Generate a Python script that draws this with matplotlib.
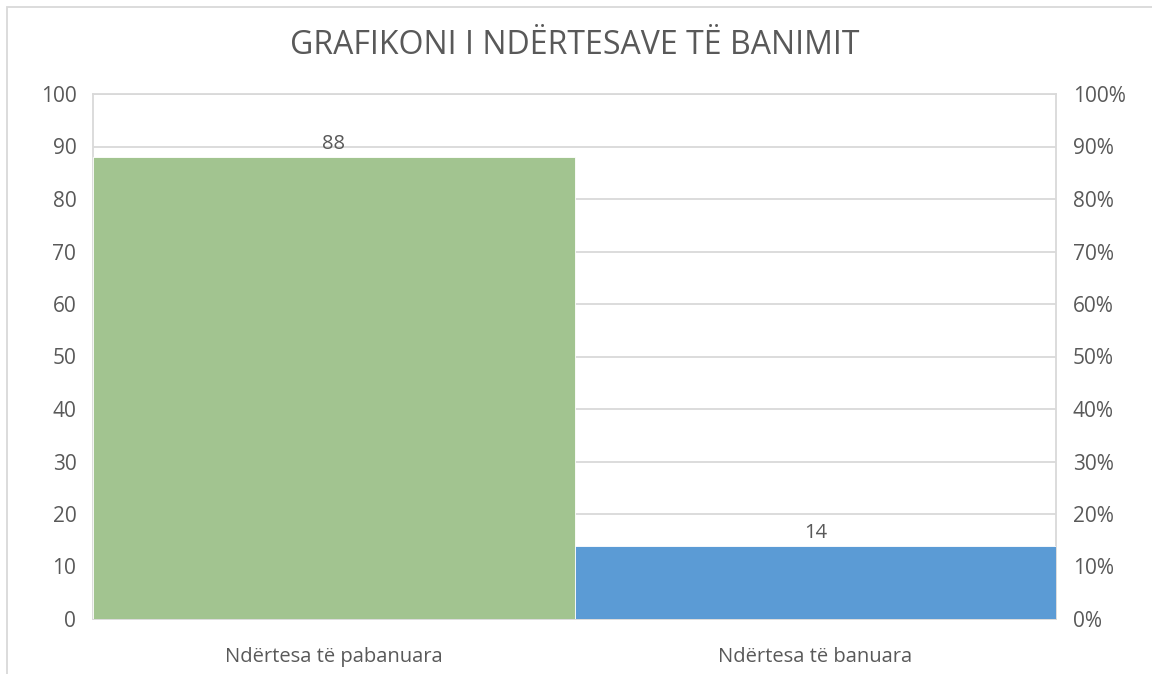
import matplotlib.pyplot as plt
from matplotlib.patches import Rectangle
from matplotlib.ticker import PercentFormatter

# te dhenat
kategorite = ['Ndërtesa të pabanuara', 'Ndërtesa të banuara']
vlerat = [88, 14]
ngjyrat = ['#A2C490', '#5B9BD5']
titulli = 'GRAFIKONI I NDËRTESAVE TË BANIMIT'

plt.rcParams['font.family'] = ['Open Sans', 'DejaVu Sans']
gri_tekst = '#595959'
gri_vije = '#D9D9D9'

fig = plt.figure(figsize=(11.52, 6.74), dpi=100)
ax = fig.add_axes([93 / 1152, 1 - 619 / 674, 963 / 1152, 525 / 674])

x = range(len(kategorite))
bars = ax.bar(x, vlerat, width=1.0, color=ngjyrat, edgecolor='white', linewidth=0.6, zorder=3)
ax.set_xlim(-0.5, len(kategorite) - 0.5)
ax.set_ylim(0, 100)
ax.set_yticks(range(0, 101, 10))
ax.grid(axis='y', color=gri_vije, linewidth=1.3, zorder=0)
ax.set_xticks(list(x))
ax.set_xticklabels(kategorite, fontsize=14.5, color=gri_tekst)
ax.tick_params(axis='x', length=0, pad=20)
ax.tick_params(axis='y', length=0, pad=12, labelsize=15, labelcolor=gri_tekst)
for s in ax.spines.values():
    s.set_color(gri_vije)
    s.set_linewidth(1.3)

for b, v in zip(bars, vlerat):
    ax.annotate(str(v), (b.get_x() + b.get_width() / 2, v), xytext=(0, 2),
                textcoords='offset points', ha='center', va='bottom',
                fontsize=14.5, color=gri_tekst, zorder=4)

# boshti i djathte me perqindje
ax2 = ax.twinx()
ax2.set_ylim(0, 1)
ax2.set_yticks([i / 10 for i in range(11)])
ax2.yaxis.set_major_formatter(PercentFormatter(1.0, decimals=0))
ax2.tick_params(axis='y', length=0, pad=12, labelsize=15, labelcolor=gri_tekst)
for s in ax2.spines.values():
    s.set_visible(False)

fig.text(575 / 1152, 1 - 45 / 674, titulli, ha='center', va='center',
         fontsize=23, color=gri_tekst)

# korniza e grafikut
fig.patches.append(Rectangle((7 / 1152, -0.1), 1.2, 1 - 7 / 674 + 0.1,
                             transform=fig.transFigure, fill=False,
                             edgecolor=gri_vije, linewidth=1.3))

fig.savefig('out.png', dpi=100)
